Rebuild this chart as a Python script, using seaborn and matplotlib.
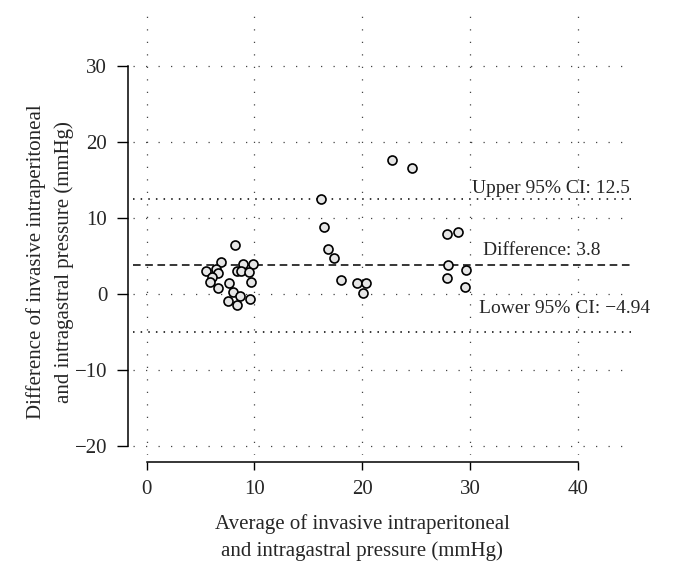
import matplotlib
matplotlib.use("Agg")
import matplotlib.pyplot as plt
import seaborn as sns

# Bland-Altman: average vs difference (mmHg)
avg = [8.19, 6.86, 8.96, 9.83, 5.47, 6.40, 6.65, 8.35, 8.72, 9.49,
       6.09, 5.87, 9.68, 7.67, 6.65, 8.04, 8.69, 9.59, 7.57, 8.35,
       16.2, 16.45, 16.8, 17.35, 18.05, 19.5, 20.3, 20.1, 22.8, 24.6,
       27.9, 28.9, 27.95, 27.9, 29.6, 29.5]
diff = [6.45, 4.25, 3.95, 3.95, 3.03, 3.25, 2.80, 3.07, 3.07, 2.85,
        2.28, 1.62, 1.54, 1.40, 0.83, 0.22, -0.22, -0.70, -0.96, -1.49,
        12.5, 8.8, 5.96, 4.8, 1.84, 1.4, 1.4, 0.1, 17.6, 16.6,
        7.9, 8.2, 3.8, 2.1, 3.1, 0.96]

mean_diff = 3.8
upper_ci = 12.5
lower_ci = -4.94

x_ticks = [0, 10, 20, 30, 40]
y_ticks = [-20, -10, 0, 10, 20, 30]

sns.set_style("ticks")
plt.rcParams["font.family"] = ["Liberation Serif", "DejaVu Serif"]
plt.rcParams["axes.unicode_minus"] = True

fig = plt.figure(figsize=(6.79, 5.74), dpi=100)
ax = fig.add_axes([133 / 679, 119 / 574, 498 / 679, 446 / 574])

ax.set_xlim(-1.27, 44.93)
ax.set_ylim(-21.18, 37.5)
ax.set_xticks(x_ticks)
ax.set_yticks(y_ticks)
ax.grid(True, color="#444444", linestyle=(0, (1, 9)), linewidth=0.9)

# limites de concordancia y diferencia media
ax.axhline(upper_ci, color="black", linestyle=(0, (1, 4)), linewidth=1.1, zorder=2)
ax.axhline(lower_ci, color="black", linestyle=(0, (1, 4)), linewidth=1.1, zorder=2)
ax.axhline(mean_diff, color="black", linestyle=(0, (5, 3)), linewidth=1.1, zorder=2)

sns.scatterplot(x=avg, y=diff, s=42, color="#e6e6e6", edgecolor="black",
                linewidth=1.2, ax=ax, zorder=3)

ax.text(30.15, 13.3, f"Upper 95% CI: {upper_ci}", fontsize=14, ha="left", va="baseline")
ax.text(31.2, 5.1, f"Difference: {mean_diff}", fontsize=14, ha="left", va="baseline")
ax.text(30.85, -2.5, f"Lower 95% CI: \u2212{abs(lower_ci)}", fontsize=14, ha="left", va="baseline")

ax.set_xlabel("Average of invasive intraperitoneal\nand intragastral pressure (mmHg)",
              fontsize=15, va="center", linespacing=1.5)
ax.xaxis.set_label_coords(0.46, -0.186)
ax.set_ylabel("Difference of invasive intraperitoneal\nand intragastral pressure (mmHg)",
              fontsize=15, va="center", linespacing=1.55)
ax.yaxis.set_label_coords(-0.166, 0.433)

ax.tick_params(axis="both", labelsize=15, width=1.0, color="black")
ax.tick_params(axis="x", length=5.5, pad=7.5)
ax.tick_params(axis="y", length=8, pad=7)

sns.despine(ax=ax, offset={"left": 3.6, "bottom": 4.8}, trim=True)
for side in ["left", "bottom"]:
    ax.spines[side].set_linewidth(1.1)
    ax.spines[side].set_color("black")

fig.savefig("out.png", dpi=100)
plt.close(fig)
